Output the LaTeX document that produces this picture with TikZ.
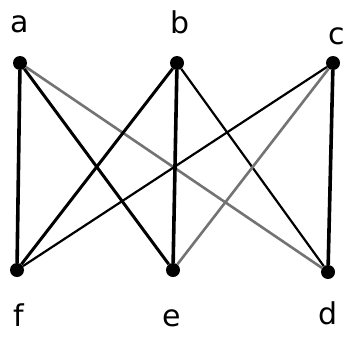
\documentclass[tikz,border=0pt]{standalone}
\usepackage{fontspec}
\setmainfont{DejaVu Sans}
\begin{document}
\begin{tikzpicture}[x=1pt,y=-1pt,
  vert/.style={circle,fill=black,inner sep=0pt,minimum size=14pt},
  lbl/.style={font=\fontsize{30}{32}\selectfont,inner sep=0pt},
  thick edge/.style={line width=3.6pt,black},
  mid edge/.style={line width=3pt,black},
  thin edge/.style={line width=2.2pt,black},
  gray edge/.style={line width=2.6pt,black!55}]
\useasboundingbox (0,0) rectangle (350,340);
\node[vert] (a) at (20,63) {};
\node[vert] (b) at (177,63) {};
\node[vert] (c) at (333,63) {};
\node[vert] (f) at (17,270) {};
\node[vert] (e) at (173,270) {};
\node[vert] (d) at (328,272) {};
\node[lbl] (la) at (20,24) {a};
\node[lbl] (lb) at (180,22) {b};
\node[lbl] (lc) at (337,36) {c};
\node[lbl] (lf) at (19,315) {f};
\node[lbl] (le) at (172,318) {e};
\node[lbl] (ld) at (328,313) {d};
\draw[thick edge] (a) -- (f);
\draw[mid edge] (a) -- (e);
\draw[gray edge] (a) -- (d);
\draw[mid edge] (b) -- (f);
\draw[thick edge] (b) -- (e);
\draw[thin edge] (b) -- (d);
\draw[thin edge] (c) -- (f);
\draw[gray edge] (c) -- (e);
\draw[thick edge] (c) -- (d);
\end{tikzpicture}
\end{document}
